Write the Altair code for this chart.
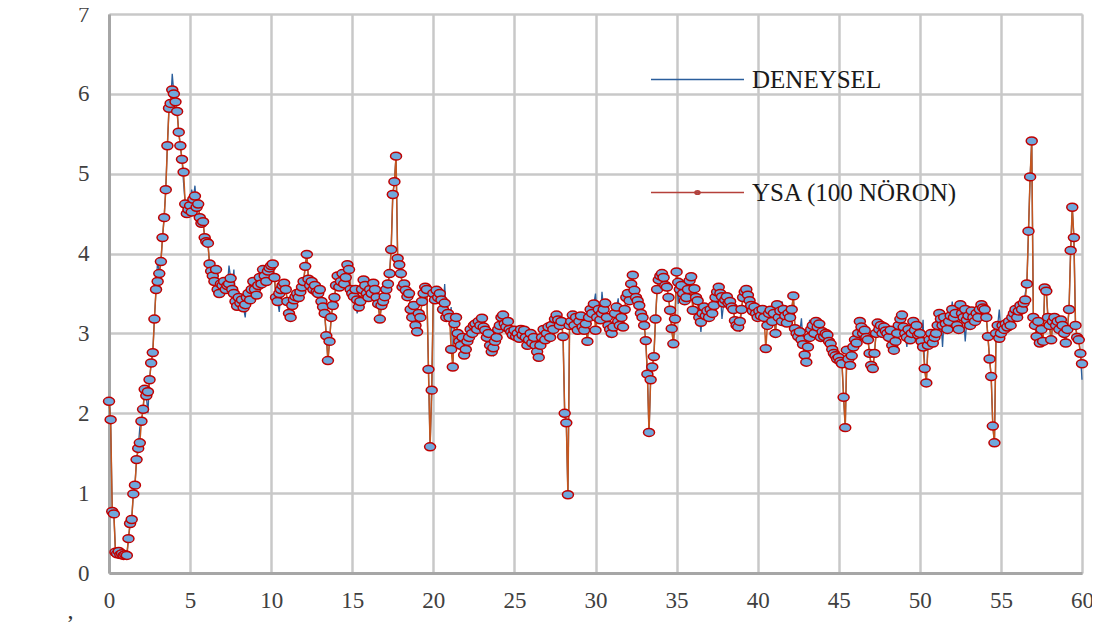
import altair as alt
import pandas as pd

# ---------------- data (step 0.1 on x) ----------------
ysa = [
 2.15,1.92,0.77,0.74,0.26,0.24,0.27,0.23,0.24,0.22,
 0.23,0.22,0.43,0.62,0.67,0.99,1.10,1.42,1.56,1.63,
 1.90,2.05,2.30,2.22,2.27,2.42,2.63,2.76,3.18,3.55,
 3.65,3.75,3.90,4.20,4.45,4.80,5.35,5.82,5.88,6.05,
 6.00,5.90,5.78,5.52,5.35,5.18,5.02,4.62,4.50,4.55,
 4.60,4.52,4.68,4.72,4.58,4.62,4.45,4.38,4.40,4.20,
 4.15,4.13,3.87,3.78,3.72,3.65,3.80,3.55,3.50,3.62,
 3.60,3.65,3.55,3.60,3.62,3.69,3.55,3.50,3.40,3.34,
 3.45,3.38,3.42,3.32,3.36,3.45,3.50,3.42,3.55,3.65,
 3.55,3.48,3.60,3.70,3.62,3.80,3.72,3.65,3.78,3.82,
 3.85,3.87,3.70,3.45,3.40,3.50,3.55,3.60,3.63,3.55,
 3.40,3.25,3.20,3.35,3.42,3.46,3.50,3.45,3.52,3.58,
 3.65,3.84,3.99,3.68,3.60,3.65,3.55,3.60,3.52,3.50,
 3.55,3.40,3.33,3.25,2.97,2.66,2.90,3.20,3.35,3.45,
 3.60,3.72,3.58,3.65,3.75,3.62,3.70,3.86,3.80,3.55,
 3.50,3.46,3.55,3.42,3.33,3.40,3.55,3.67,3.60,3.50,
 3.45,3.55,3.50,3.63,3.55,3.45,3.37,3.18,3.35,3.40,
 3.46,3.55,3.62,3.75,4.05,4.74,4.90,5.22,3.94,3.86,
 3.75,3.58,3.62,3.54,3.46,3.50,3.30,3.20,3.35,3.10,
 3.02,3.25,3.20,3.40,3.50,3.58,3.55,2.55,1.58,2.29,
 3.50,3.42,3.54,3.45,3.50,3.42,3.30,3.38,3.20,3.25,
 3.20,2.80,2.58,3.12,3.20,3.00,2.90,2.85,2.95,2.73,
 2.80,2.90,2.95,3.05,3.00,3.10,3.12,3.05,3.15,3.10,
 3.19,3.08,3.04,2.95,3.00,2.85,2.77,2.82,2.90,2.95,
 3.05,3.10,3.20,3.23,3.12,3.08,3.15,3.05,3.02,2.98,
 3.04,2.96,3.00,2.94,3.05,2.98,3.04,2.95,2.85,2.92,
 3.00,2.88,2.95,2.85,2.77,2.70,2.85,2.95,3.05,2.92,
 3.00,3.08,2.95,3.10,3.05,3.18,3.23,3.17,3.10,3.15,
 2.96,2.00,1.88,0.98,3.10,3.15,3.23,3.10,3.20,3.04,
 3.15,3.22,3.08,3.04,3.12,2.90,3.20,3.30,3.25,3.37,
 3.04,3.20,3.30,3.17,3.25,3.30,3.38,3.20,3.10,3.05,
 3.00,3.08,3.25,3.33,3.15,3.10,3.20,3.08,3.30,3.45,
 3.50,3.41,3.62,3.73,3.54,3.45,3.41,3.35,3.25,3.20,
 3.10,2.91,2.49,1.76,2.42,2.58,2.71,3.18,3.55,3.67,
 3.72,3.75,3.70,3.60,3.58,3.45,3.29,3.06,2.87,3.18,
 3.77,3.64,3.55,3.60,3.50,3.41,3.45,3.55,3.66,3.71,
 3.29,3.56,3.45,3.41,3.20,3.14,3.25,3.33,3.22,3.28,
 3.20,3.30,3.25,3.35,3.45,3.52,3.58,3.50,3.46,3.38,
 3.42,3.46,3.38,3.40,3.33,3.30,3.16,3.10,3.08,3.15,
 3.30,3.45,3.52,3.55,3.48,3.41,3.35,3.28,3.33,3.25,
 3.20,3.28,3.22,3.30,3.20,2.81,3.10,3.25,3.29,3.15,
 3.25,3.00,3.36,3.20,3.28,3.15,3.30,3.22,3.13,3.25,
 3.20,3.30,3.47,3.06,3.00,2.96,3.02,2.92,2.86,2.73,
 2.64,2.83,2.95,3.05,3.10,3.00,3.15,3.08,3.12,2.95,
 3.02,2.96,3.00,2.98,2.90,2.87,2.80,2.75,2.72,2.68,
 2.70,2.65,2.62,2.20,1.82,2.79,2.68,2.60,2.72,2.83,
 2.92,2.88,3.00,3.15,3.08,3.00,3.04,2.95,2.92,2.75,
 2.60,2.56,2.75,3.00,3.13,3.05,3.10,3.00,3.08,3.03,
 3.00,2.95,3.04,2.85,2.79,2.90,3.00,3.10,3.18,3.23,
 3.08,3.00,2.95,3.05,2.92,3.00,3.15,3.04,3.10,2.98,
 3.00,2.90,2.83,2.56,2.38,2.85,2.92,3.00,2.88,2.95,
 3.00,3.10,3.25,3.18,3.10,3.20,3.12,3.05,3.15,3.22,
 3.30,3.20,3.25,3.10,3.05,3.36,3.25,3.20,3.30,3.17,
 3.22,3.10,3.28,3.20,3.15,3.25,3.20,3.30,3.36,3.32,
 3.30,3.20,2.96,2.68,2.46,1.84,1.63,3.00,3.10,2.94,
 3.00,3.10,3.05,3.12,3.08,3.15,3.10,3.20,3.25,3.30,
 3.20,3.28,3.35,3.30,3.38,3.42,3.62,4.28,4.96,5.41,
 3.20,3.10,2.96,3.15,2.88,3.05,2.90,3.57,3.53,3.20,
 3.10,2.92,3.15,3.20,3.10,3.15,3.05,3.17,3.10,3.00,
 2.88,3.05,3.30,4.04,4.58,4.20,3.10,2.95,2.92,2.75,
 2.62,
]

deneysel = [
 2.15,1.92,0.77,0.74,0.26,0.24,0.27,0.23,0.24,0.22,
 0.23,0.22,0.43,0.62,0.67,0.99,1.10,1.42,1.56,1.82,
 1.90,2.05,2.30,2.22,2.00,2.42,2.63,2.76,3.18,3.55,
 3.93,3.75,3.90,4.20,4.45,4.80,5.35,5.82,5.88,6.25,
 6.00,5.90,5.78,5.52,5.35,5.18,4.88,4.62,4.50,4.55,
 4.60,4.80,4.68,4.85,4.58,4.62,4.45,4.38,4.40,4.20,
 4.15,4.13,3.87,3.78,3.72,3.65,3.80,3.55,3.50,3.62,
 3.60,3.65,3.55,3.60,3.85,3.69,3.55,3.80,3.40,3.34,
 3.45,3.38,3.42,3.32,3.20,3.45,3.50,3.42,3.55,3.65,
 3.55,3.48,3.60,3.70,3.62,3.80,3.72,3.65,3.78,3.82,
 3.85,3.87,3.70,3.45,3.40,3.27,3.55,3.60,3.63,3.55,
 3.40,3.25,3.20,3.35,3.42,3.46,3.50,3.45,3.52,3.58,
 3.65,3.84,3.99,3.68,3.60,3.65,3.55,3.60,3.52,3.50,
 3.55,3.40,3.33,3.25,2.97,2.66,2.90,3.20,3.35,3.45,
 3.60,3.72,3.58,3.65,3.75,3.62,3.70,3.86,3.80,3.55,
 3.50,3.46,3.55,3.25,3.33,3.40,3.55,3.67,3.60,3.50,
 3.45,3.55,3.50,3.63,3.55,3.45,3.37,3.18,3.35,3.40,
 3.46,3.55,3.62,3.75,4.05,4.74,4.90,5.22,3.94,3.86,
 3.75,3.58,3.62,3.54,3.46,3.50,3.30,3.20,3.35,3.10,
 3.02,3.25,3.20,3.40,3.50,3.58,3.55,2.55,1.58,2.29,
 3.50,3.42,3.54,3.45,3.50,3.42,3.30,3.62,3.20,3.25,
 3.20,3.33,2.58,3.12,3.20,3.00,2.90,2.85,2.95,2.73,
 2.80,2.90,2.95,3.05,3.00,3.10,3.12,3.05,3.15,3.10,
 3.19,3.08,3.04,2.95,3.00,2.85,2.77,2.73,2.90,2.95,
 3.05,3.10,3.20,3.23,3.12,3.08,3.15,3.05,3.02,2.98,
 3.04,2.96,3.00,2.94,3.05,2.98,3.04,2.95,2.85,2.92,
 3.00,2.88,2.95,2.85,2.77,2.70,2.85,2.95,3.05,2.92,
 3.00,3.08,2.95,3.10,3.05,3.18,3.23,3.17,3.10,3.15,
 2.96,2.00,1.88,0.98,3.10,3.15,3.23,3.10,3.20,3.04,
 3.15,3.22,3.08,3.04,3.12,2.90,3.20,3.30,3.25,3.37,
 3.50,3.20,3.30,3.17,3.52,3.30,3.38,3.20,2.95,3.05,
 3.00,3.08,3.25,3.33,3.44,3.10,3.20,3.08,3.30,3.45,
 3.50,3.41,3.62,3.73,3.54,3.45,3.41,3.35,3.25,3.20,
 3.10,2.91,2.49,1.76,2.42,2.58,2.71,3.18,3.55,3.67,
 3.72,3.75,3.70,3.60,3.58,3.45,3.29,3.06,2.87,3.18,
 3.77,3.37,3.55,3.60,3.50,3.41,3.45,3.55,3.66,3.71,
 3.29,3.56,3.45,3.41,3.20,3.02,3.25,3.33,3.22,3.28,
 3.20,3.30,3.25,3.35,3.45,3.52,3.58,3.50,3.18,3.38,
 3.42,3.46,3.38,3.40,3.33,3.30,3.16,3.10,3.08,3.02,
 3.30,3.45,3.52,3.55,3.48,3.41,3.35,3.28,3.33,3.25,
 3.20,3.28,3.22,3.30,3.20,3.08,3.10,3.25,3.29,3.15,
 3.25,3.00,3.36,3.20,3.28,3.40,3.30,3.22,3.13,3.25,
 3.20,3.30,3.47,3.06,3.00,2.96,3.02,3.19,2.86,2.73,
 2.64,2.83,3.17,3.05,3.10,3.00,3.15,3.08,3.12,2.95,
 3.02,2.96,3.00,2.98,2.90,2.87,2.80,2.75,2.72,2.60,
 2.70,2.65,2.62,2.20,1.82,2.79,2.68,2.60,2.72,2.83,
 2.92,2.88,3.00,3.15,3.08,3.00,3.04,2.95,2.92,2.75,
 2.60,2.56,2.75,3.00,3.13,3.05,3.10,3.00,3.08,3.03,
 3.00,2.95,3.04,2.85,2.79,2.90,3.00,3.10,3.18,3.23,
 3.08,3.00,2.83,3.05,2.92,3.00,3.15,3.04,3.10,2.98,
 3.00,2.90,3.17,2.56,2.38,2.85,2.92,3.00,2.88,2.95,
 3.00,3.10,3.25,3.18,2.83,3.20,3.12,3.05,3.15,3.22,
 3.40,3.20,3.25,3.10,3.05,3.36,3.25,3.20,2.90,3.17,
 3.22,3.10,3.28,3.20,3.15,3.25,3.20,3.30,3.36,3.32,
 3.30,3.20,2.96,2.68,2.46,1.84,1.63,3.00,3.10,3.30,
 3.00,3.10,3.05,3.12,3.08,3.15,3.10,3.20,3.25,3.30,
 3.20,3.28,3.35,3.30,3.38,3.50,3.62,4.28,4.96,5.41,
 3.20,3.10,2.96,3.15,2.88,3.05,2.90,3.57,3.53,3.20,
 3.10,2.90,3.15,3.20,3.10,3.15,3.05,3.17,3.10,3.00,
 2.88,3.05,3.30,4.04,4.58,4.20,3.10,2.95,2.92,2.75,
 2.42,
]

xs = [round(i * 0.1, 1) for i in range(len(ysa))]
series_names = ["DENEYSEL", "YSA (100 NÖRON)"]
x_ticks = [0, 5, 10, 15, 20, 25, 30, 35, 40, 45, 50, 55, 60]
y_ticks = [0, 1, 2, 3, 4, 5, 6, 7]

df = pd.DataFrame({"x": xs, "den": deneysel, "ysa": ysa})
leg_df = pd.DataFrame({"series": series_names, "x": [30, 30], "y": [-5, -5]})

# ---------------- styling ----------------
FONT = "Liberation Serif"
ellipse = "M-1,0A1,0.72 0 1,0 1,0A1,0.72 0 1,0 -1,0Z"
leg_line = "M-1,0L1,0"
leg_mark = "M-1,0L1,0M-0.055,0A0.055,0.04 0 1,0 0.055,0A0.055,0.04 0 1,0 -0.055,0Z"

xscale = alt.Scale(domain=[0, 60], nice=False, zero=False)
yscale = alt.Scale(domain=[0, 7], nice=False)

xaxis = alt.Axis(values=x_ticks, title=None, grid=True, ticks=False, format="d",
                 labelFont=FONT, labelFontSize=23, labelColor="#404040",
                 labelPadding=16, domainColor="#A6A6A6", domainWidth=3,
                 gridColor="#C8C8C8", gridWidth=2.5, labelFlush=False)
yaxis = alt.Axis(values=y_ticks, title=None, grid=True, ticks=False, format="d",
                 labelFont=FONT, labelFontSize=23, labelColor="#404040",
                 labelPadding=20, domainColor="#A6A6A6", domainWidth=3,
                 gridColor="#C8C8C8", gridWidth=2.5)

base = alt.Chart(df)

den_line = base.mark_line(color="#2A5E9C", strokeWidth=1.3).encode(
    x=alt.X("x:Q", scale=xscale, axis=xaxis),
    y=alt.Y("den:Q", scale=yscale, axis=yaxis),
)
ysa_line = base.mark_line(color="#C5561E", strokeWidth=1.5).encode(
    x=alt.X("x:Q"), y=alt.Y("ysa:Q"),
)
ysa_pts = base.mark_point(shape=ellipse, size=121, filled=True, fill="#6FA8DC",
                          stroke="#C00000", strokeWidth=1.5, opacity=1).encode(
    x=alt.X("x:Q"), y=alt.Y("ysa:Q"),
)

leg = alt.Legend(orient="none", legendX=541, legendY=18, title=None,
                 labelFont=FONT, labelFontSize=25, labelColor="#1A1A1A",
                 symbolSize=8649, symbolStrokeWidth=1.5, rowPadding=52,
                 labelOffset=7, labelLimit=0, padding=0, symbolOpacity=1)

legend_layer = alt.Chart(leg_df).mark_point(clip=True, opacity=1, strokeWidth=1.5).encode(
    x=alt.X("x:Q"), y=alt.Y("y:Q"),
    shape=alt.Shape("series:N", scale=alt.Scale(domain=series_names, range=[leg_line, leg_mark]), legend=leg),
    stroke=alt.Stroke("series:N", scale=alt.Scale(domain=series_names, range=["#2A5E9C", "#B5403A"]), legend=leg),
    fill=alt.Fill("series:N", scale=alt.Scale(domain=series_names, range=["transparent", "#6FA8DC"]), legend=leg),
)

chart = alt.layer(den_line, ysa_line, ysa_pts, legend_layer).properties(
    width=973, height=559,
    autosize=alt.AutoSizeParams(type="none"),
    padding={"left": 101, "top": 6, "right": 10, "bottom": 50},
    title=alt.TitleParams(",", orient="bottom", anchor="start", dx=-10, offset=-13,
                          font=FONT, fontSize=24, fontWeight="normal", color="#333333"),
).configure_view(strokeWidth=0).configure(background="white")

chart.save("out.html", embed_options={"renderer": "svg", "actions": False})
